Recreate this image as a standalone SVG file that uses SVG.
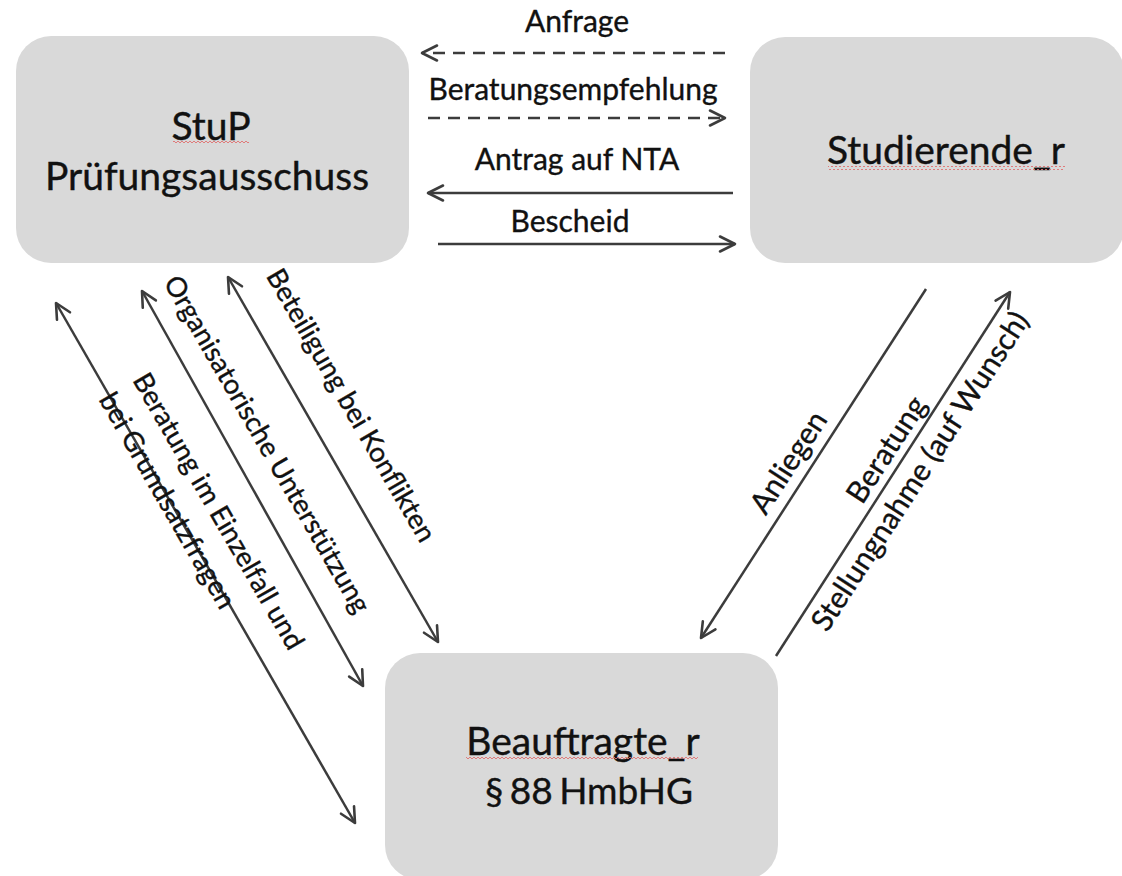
<svg xmlns="http://www.w3.org/2000/svg" width="1122" height="876" viewBox="0 0 1122 876">
<style>
.node{fill:#d9d9d9;stroke:none}
.nt{font-family:Lato,"Open Sans",sans-serif;font-size:39px;fill:#111;stroke:#111;stroke-width:0.4;text-anchor:middle}
.lb{font-family:Lato,"Open Sans",sans-serif;font-size:30px;fill:#111;stroke:#111;stroke-width:0.35;text-anchor:middle}
.lbs{font-size:27.5px}
.ln{fill:none;stroke:#3c3c3c;stroke-width:2.5}
.dash{stroke-dasharray:12 8}
.wave{fill:url(#wave);stroke:none}
</style>
<defs>
<marker id="ah" markerUnits="userSpaceOnUse" markerWidth="24" markerHeight="24" viewBox="-18 -12 24 24" refX="0" refY="0" orient="auto-start-reverse">
<path d="M-15,-7.5 L0,0 L-15,7.5" fill="none" stroke="#3c3c3c" stroke-width="2.6" stroke-linecap="round" stroke-linejoin="round" stroke-dasharray="none"/>
</marker>
<pattern id="wave" patternUnits="userSpaceOnUse" width="4" height="4">
<polyline points="0,3 2,1 4,3" fill="none" stroke="#e07070" stroke-width="0.9"/>
</pattern>
</defs>
<rect width="1122" height="876" fill="#fff"/>

<g id="node-stup">
<rect class="node" x="16" y="36" width="393" height="227" rx="35"/>
<text class="nt" x="211" y="140">StuP</text>
<rect class="wave" x="173" y="140" width="76" height="4"/>
<text class="nt" x="207" y="190">Prüfungsausschuss</text>
</g>

<g id="node-studierende">
<rect class="node" x="750" y="37" width="374" height="226" rx="35"/>
<text class="nt" x="946" y="164">Studierende_r</text>
<rect class="wave" x="828" y="166" width="237" height="4"/>
</g>

<g id="node-beauftragte">
<rect class="node" x="385" y="653" width="393" height="227" rx="35"/>
<text class="nt" x="583" y="755">Beauftragte_r</text>
<rect class="wave" x="466" y="757" width="232" height="4"/>
<text class="nt" x="589" y="804" style="font-size:37px;word-spacing:-3px">§ 88 HmbHG</text>
</g>

<g id="connectors">
<line class="ln dash" x1="725" y1="53" x2="422" y2="53" marker-end="url(#ah)"/>
<line class="ln dash" x1="428" y1="118" x2="725" y2="118" marker-end="url(#ah)"/>
<line class="ln" x1="733" y1="193" x2="428" y2="193" marker-end="url(#ah)"/>
<line class="ln" x1="438" y1="244" x2="735" y2="244" marker-end="url(#ah)"/>
<line class="ln" x1="56" y1="303" x2="355" y2="823" marker-start="url(#ah)" marker-end="url(#ah)"/>
<line class="ln" x1="142" y1="291" x2="363" y2="686" marker-start="url(#ah)" marker-end="url(#ah)"/>
<line class="ln" x1="228" y1="277" x2="438" y2="642" marker-start="url(#ah)" marker-end="url(#ah)"/>
<line class="ln" x1="926" y1="289" x2="701" y2="638" marker-end="url(#ah)"/>
<line class="ln" x1="776" y1="656" x2="1010" y2="292" marker-end="url(#ah)"/>
</g>

<g id="labels">
<text class="lb" x="577" y="32">Anfrage</text>
<text class="lb" x="573" y="100">Beratungsempfehlung</text>
<text class="lb" x="577" y="170">Antrag auf NTA</text>
<text class="lb" x="570" y="232">Bescheid</text>
<text class="lb lbs" transform="translate(343,410) rotate(60)">Beteiligung bei Konflikten</text>
<text class="lb lbs" transform="translate(259,449) rotate(60)">Organisatorische Unterstützung</text>
<text class="lb lbs" style="text-anchor:start" transform="translate(132,380) rotate(60)"><tspan x="0" y="0">Beratung im Einzelfall und</tspan><tspan x="0" y="39">bei Grundsatzfragen</tspan></text>
<text class="lb" transform="translate(797,468) rotate(-57)">Anliegen</text>
<text class="lb" transform="translate(895,455) rotate(-57)"><tspan x="0" y="0">Beratung</tspan><tspan x="0" y="40">Stellungnahme (auf Wunsch)</tspan></text>
</g>
</svg>
